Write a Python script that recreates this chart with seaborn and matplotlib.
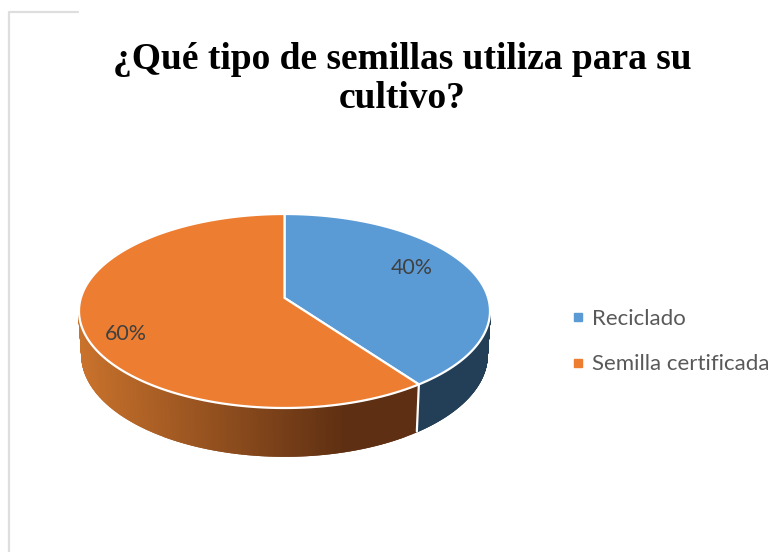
import numpy as np
import matplotlib
matplotlib.use("Agg")
import matplotlib.pyplot as plt
import seaborn as sns
from matplotlib.lines import Line2D
from matplotlib.patches import Polygon
from matplotlib.path import Path

titulo = "¿Qué tipo de semillas utiliza para su\ncultivo?"
categorias = ["Reciclado", "Semilla certificada"]
porcentajes = [40, 60]
colores = ["#5B9BD5", "#ED7D31"]

sns.set_theme(style="white")
plt.rcParams["font.family"] = ["Lato", "DejaVu Sans"]

W, H = 781, 552
fig = plt.figure(figsize=(W / 100, H / 100), dpi=100, facecolor="white")


# rettangolo in pixel (origine in alto) -> coordinate figura
def box(x0, y0, x1, y1):
    return [x0 / W, 1 - y1 / H, (x1 - x0) / W, (y1 - y0) / H]


ax = fig.add_axes(box(79, 214, 490, 408))

wedges, _, autotexts = ax.pie(
    porcentajes,
    colors=sns.color_palette(colores),
    startangle=90,
    counterclock=False,
    radius=1,
    autopct="%.0f%%",
    textprops={"color": "#404040", "fontsize": 15.4},
)
ax.set_aspect("auto")
ax.set_xlim(-1, 1)
ax.set_ylim(-1, 1)
ax.axis("off")

# prospettiva: il disco resta un disco ma il centro sale
C = 0.135


def prospettiva(x, y):
    den = 1 + C * y
    return x * np.sqrt(1 - C**2) / den, (y + C) / den


# fette superiori deformate, prese dai wedge della pie
for w in wedges:
    w.set_visible(False)
    p = w.get_patch_transform().transform_path(w.get_path())
    poly = Path(p.vertices * 1000, p.codes).to_polygons(closed_only=True)[0] / 1000
    xs, ys = prospettiva(poly[:, 0], poly[:, 1])
    ax.add_patch(Polygon(np.c_[xs, ys], closed=True, facecolor=w.get_facecolor(),
                         edgecolor="white", linewidth=1.6, joinstyle="round",
                         clip_on=False, zorder=5))


# parete laterale
def bordo(theta):
    return prospettiva(np.sin(theta), np.cos(theta))


def fondo(x, y):
    return 0.985 * x, -0.454 + 1.04 * y


def parete(t0, t1, col_fn, n=300):
    th = np.linspace(t0, t1, n)
    xt, yt = bordo(th)
    xb, yb = fondo(xt, yt)
    for i in range(n - 1):
        pts = [(xt[i], yt[i]), (xt[i + 1], yt[i + 1]), (xb[i + 1], yb[i + 1]), (xb[i], yb[i])]
        c = col_fn(xt[i])
        ax.add_patch(Polygon(pts, closed=True, facecolor=c, edgecolor=c, linewidth=1.3,
                             clip_on=False, zorder=2))


scuro_or = np.array(matplotlib.colors.to_rgb("#5E2F12"))
chiaro_or = np.array(matplotlib.colors.to_rgb("#C9722C"))


def sfumato(x):
    f = np.clip((x + 1) / 1.3, 0, 1)
    return tuple(chiaro_or + (scuro_or - chiaro_or) * f)


taglio = 2 * np.pi * porcentajes[0] / sum(porcentajes)
margine = 0.12  # le pareti partono un po' sotto il punto piu largo
parete(np.pi / 2 + margine, taglio, lambda x: "#223F57")
parete(taglio, 3 * np.pi / 2 - margine, sfumato)

# linea bianca fra le due pareti
xs, ys = bordo(taglio)
xe, ye = fondo(xs, ys)
ax.plot([xs, xe], [ys, ye], color="white", lw=1.6, zorder=3, clip_on=False)

# etichette percentuali
autotexts[0].set_position((0.62, 0.443))
autotexts[1].set_position((-0.772, -0.237))
for t in autotexts:
    t.set_zorder(6)

# titolo
fig.text(402 / W, 1 - 79 / H, titulo, ha="center", va="center",
         family="Liberation Serif", weight="bold", fontsize=27, color="black",
         linespacing=1.13)

# legenda
maniglie = [Line2D([], [], linestyle="none", marker="s", markersize=5.5,
                   markerfacecolor=c, markeredgecolor=c) for c in colores]
fig.legend(maniglie, categorias, loc="center left", bbox_to_anchor=(569.5 / W, 1 - 341.5 / H),
           frameon=False, fontsize=16, labelcolor="#595959", handlelength=0.75,
           handletextpad=0.25, labelspacing=1.15, borderpad=0, borderaxespad=0)

# cornice grigia del grafico, tagliata
fig.add_artist(Line2D([78 / W, 8.5 / W, 8.5 / W], [1 - 11.5 / H, 1 - 11.5 / H, 0],
                      transform=fig.transFigure, color="#DEDEDE", lw=1.6))

fig.savefig("out.png", dpi=100)
